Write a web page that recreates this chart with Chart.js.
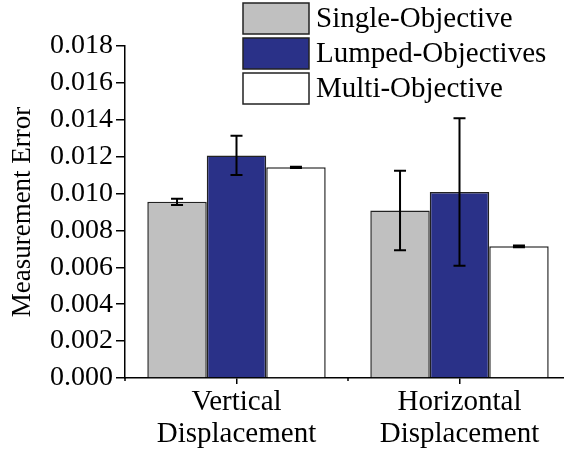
<!DOCTYPE html>
<html>
<head>
<meta charset="utf-8">
<script src="https://cdn.jsdelivr.net/npm/chart.js@4/dist/chart.umd.min.js"></script>
<style>
  html, body { margin: 0; padding: 0; background: #fff; overflow: hidden; }
  #wrap { width: 574px; height: 456px; }
</style>
</head>
<body>
<div id="wrap"><canvas id="chart" width="574" height="456"></canvas></div>
<script>
// categories and series
const categories = [["Vertical", "Displacement"], ["Horizontal", "Displacement"]];
const seriesNames = ["Single-Objective", "Lumped-Objectives", "Multi-Objective"];
const singleValues = [0.00955, 0.00908];
const singleErrors = [0.00017, 0.00215];
const lumpedValues = [0.01207, 0.01008];
const lumpedErrors = [0.00106, 0.00400];
const multiValues = [0.01142, 0.00714];
const multiErrors = [0.00004, 0.00005];
const yTicks = [0, 0.002, 0.004, 0.006, 0.008, 0.010, 0.012, 0.014, 0.016, 0.018];

const serif = "'Liberation Serif', 'Times New Roman', serif";
const colors = ["#c0c0c0", "#2a3188", "#ffffff"];

// draws +/- error whiskers on top of every bar
const errorBars = {
  id: "errorBars",
  afterDatasetsDraw(chart) {
    const ctx = chart.ctx;
    const y = chart.scales.y;
    ctx.save();
    ctx.strokeStyle = "#000";
    ctx.lineWidth = 2;
    chart.data.datasets.forEach((ds, i) => {
      const meta = chart.getDatasetMeta(i);
      meta.data.forEach((bar, j) => {
        const v = ds.data[j], e = ds.errors[j];
        const top = y.getPixelForValue(v + e);
        const bot = y.getPixelForValue(v - e);
        const x = bar.x, cap = 6;
        ctx.beginPath();
        ctx.moveTo(x, top); ctx.lineTo(x, bot);
        ctx.moveTo(x - cap, top); ctx.lineTo(x + cap, top);
        ctx.moveTo(x - cap, bot); ctx.lineTo(x + cap, bot);
        ctx.stroke();
      });
    });
    ctx.restore();
  }
};

// small ticks on the category boundaries
const boundaryTicks = {
  id: "boundaryTicks",
  afterDraw(chart) {
    const ctx = chart.ctx;
    const x = chart.scales.x;
    const base = chart.chartArea.bottom;
    ctx.save();
    ctx.strokeStyle = "#000";
    ctx.lineWidth = 1.5;
    for (let i = 0; i <= categories.length; i++) {
      const px = x.getPixelForValue(i - 0.5);
      ctx.beginPath();
      ctx.moveTo(px, base);
      ctx.lineTo(px, base + 3);
      ctx.stroke();
    }
    ctx.restore();
  }
};

// stacked legend boxes in the top right
const boxLegend = {
  id: "boxLegend",
  afterDraw(chart) {
    const ctx = chart.ctx;
    const left = 243, top = 3, w = 66, h = 31, step = 35;
    ctx.save();
    ctx.font = "29px " + serif;
    ctx.textBaseline = "middle";
    chart.data.datasets.forEach((ds, i) => {
      const by = top + i * step;
      ctx.fillStyle = ds.backgroundColor;
      ctx.fillRect(left, by, w, h);
      ctx.strokeStyle = "#222";
      ctx.lineWidth = 1.5;
      ctx.strokeRect(left, by, w, h);
      ctx.fillStyle = "#000";
      ctx.fillText(ds.label, left + w + 7, by + h / 2 + 1);
    });
    ctx.restore();
  }
};

const makeSet = (i, data, errors) => ({
  label: seriesNames[i],
  data: data,
  errors: errors,
  backgroundColor: colors[i],
  borderColor: "#222",
  borderWidth: 1.5,
  categoryPercentage: 0.8,
  barPercentage: 1.0
});

new Chart(document.getElementById("chart"), {
  type: "bar",
  data: {
    labels: categories,
    datasets: [
      makeSet(0, singleValues, singleErrors),
      makeSet(1, lumpedValues, lumpedErrors),
      makeSet(2, multiValues, multiErrors)
    ]
  },
  options: {
    responsive: false,
    animation: false,
    layout: { padding: { top: 46, right: 3, left: 0, bottom: 0 } },
    plugins: {
      legend: { display: false },
      tooltip: { enabled: false }
    },
    scales: {
      x: {
        grid: { display: true, drawOnChartArea: false, offset: false, color: "#000", lineWidth: 1.5, tickLength: 6 },
        border: { color: "#000", width: 1.5 },
        ticks: { color: "#000", font: { family: serif, size: 29, lineHeight: 1.12 }, padding: 2, maxRotation: 0 },
        afterFit(scale) { scale.height = 78; }
      },
      y: {
        min: 0,
        max: 0.018,
        afterBuildTicks(scale) { scale.ticks = yTicks.map(v => ({ value: v })); },
        grid: { display: true, drawOnChartArea: false, color: "#000", lineWidth: 1.5, tickLength: 9 },
        border: { color: "#000", width: 1.5 },
        ticks: {
          color: "#000",
          font: { family: serif, size: 28 },
          padding: 3,
          callback: v => v.toFixed(3)
        },
        title: {
          display: true,
          text: "Measurement Error",
          color: "#000",
          font: { family: serif, size: 27, lineHeight: 1.2 },
          padding: { top: 7, bottom: 0 }
        },
        afterFit(scale) { scale.width = 125; }
      }
    }
  },
  plugins: [errorBars, boundaryTicks, boxLegend]
});
</script>
</body>
</html>
